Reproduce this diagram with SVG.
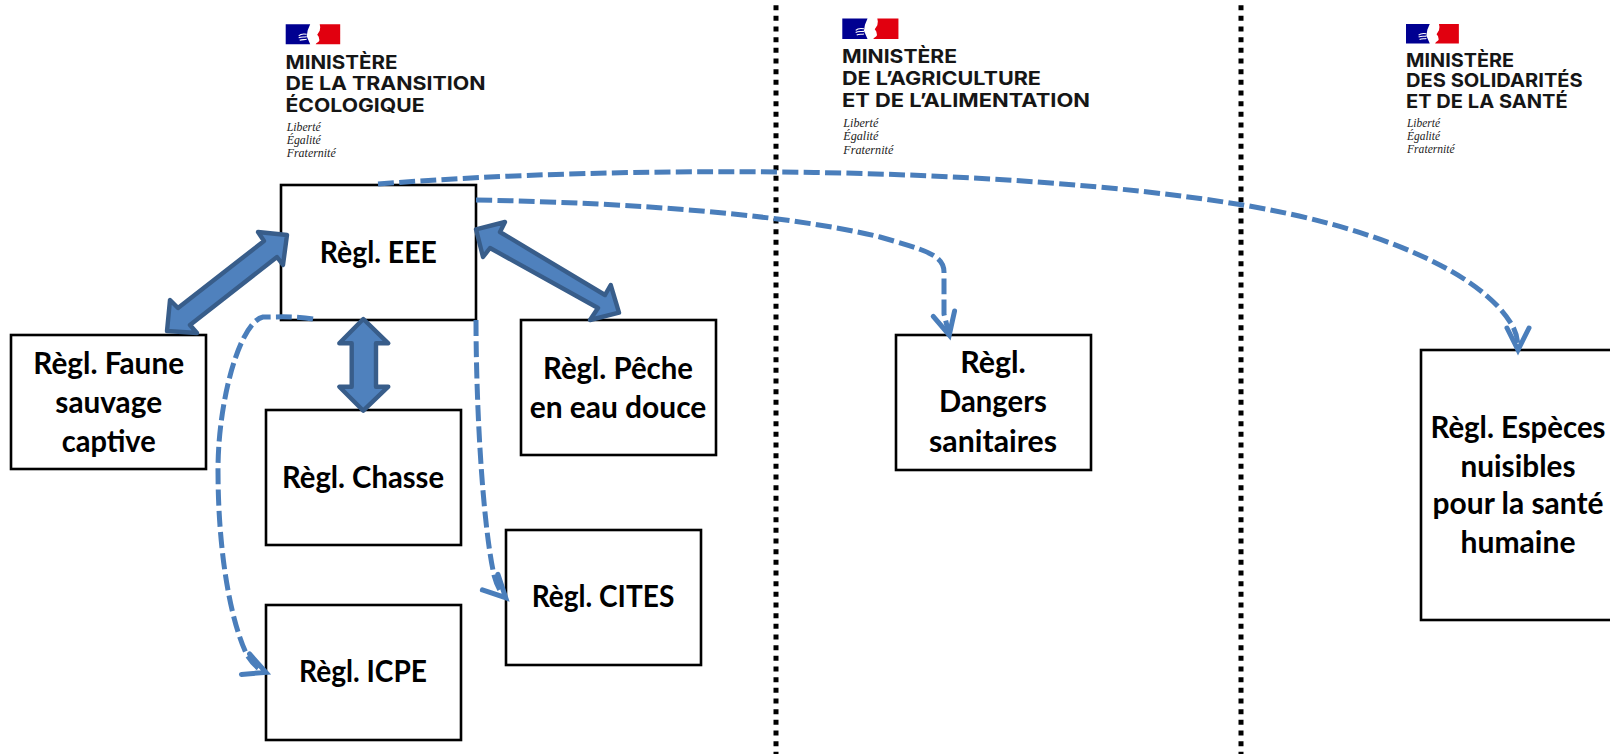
<svg xmlns="http://www.w3.org/2000/svg" width="1610" height="754" viewBox="0 0 1610 754">
<style>
.box{fill:#fff;stroke:#000;stroke-width:2.6}
.lbl{font:700 30px Lato,"Liberation Sans",sans-serif;fill:#000;text-anchor:middle}
.sep{fill:none;stroke:#000;stroke-width:5;stroke-dasharray:5 5.667}
.thick{fill:#4f81bd;stroke:#385d8a;stroke-width:4.4;stroke-linejoin:round}
.dash{fill:none;stroke:#4a7ebb;stroke-width:5;stroke-dasharray:16 5.3;marker-end:url(#head)}
.min{font:700 19px Inter,"Noto Sans",sans-serif;fill:#161616}
.dev{font:italic 11.5px "Liberation Serif",serif;fill:#222}
</style>
<defs>
<marker id="head" markerUnits="userSpaceOnUse" markerWidth="36" markerHeight="36" refX="27" refY="16" orient="auto" overflow="visible">
<path d="M6,5 L28,16 L6,27" fill="none" stroke="#4a7ebb" stroke-width="5" stroke-linecap="round"/>
</marker>
<g id="flag">
<rect x="0" y="0" width="54.5" height="20" fill="#fff"/>
<path d="M0,0H24.5L22,6L21,12L24.5,20H0Z" fill="#000091"/>
<path d="M34,0H54.5V20H30C31,18 34.5,17.5 33.5,15L33,12.5L31.5,10.5L34,6.5L34.5,3Z" fill="#e1000f"/>
<path d="M13,11.5C15,9.5 18,9.5 21,10M13,13.5C16,12 18,13 21,12.5M14,16C16,15 18,15.5 21,15" fill="none" stroke="#fff" stroke-width="1.1"/>
</g>
</defs>
<rect width="1610" height="754" fill="#fff"/>

<g id="separators">
<line class="sep" x1="776" y1="5.17" x2="776" y2="754"/>
<line class="sep" x1="1241" y1="5.17" x2="1241" y2="754"/>
</g>

<g id="logo-transition">
<use href="#flag" transform="translate(285.7 24.3)"/>
<text class="min" x="285.5" y="69.3" textLength="112" lengthAdjust="spacingAndGlyphs">MINISTÈRE</text>
<text class="min" x="285.5" y="90" textLength="200" lengthAdjust="spacingAndGlyphs">DE LA TRANSITION</text>
<text class="min" x="285.5" y="111.7" textLength="139" lengthAdjust="spacingAndGlyphs">ÉCOLOGIQUE</text>
<text class="dev" x="286.7" y="130.7" textLength="34" lengthAdjust="spacingAndGlyphs">Liberté</text>
<text class="dev" x="286.7" y="144" textLength="34" lengthAdjust="spacingAndGlyphs">Égalité</text>
<text class="dev" x="286.7" y="157.3" textLength="49" lengthAdjust="spacingAndGlyphs">Fraternité</text>
</g>
<g id="logo-agriculture">
<use href="#flag" transform="translate(842.3 18.5) scale(1.03 1.03)"/>
<text class="min" x="842" y="63.3" textLength="115" lengthAdjust="spacingAndGlyphs">MINISTÈRE</text>
<text class="min" x="842" y="85" textLength="199" lengthAdjust="spacingAndGlyphs">DE L’AGRICULTURE</text>
<text class="min" x="842" y="106.7" textLength="248" lengthAdjust="spacingAndGlyphs">ET DE L’ALIMENTATION</text>
<text class="dev" x="843.3" y="126.7" textLength="35" lengthAdjust="spacingAndGlyphs">Liberté</text>
<text class="dev" x="843.3" y="140" textLength="35" lengthAdjust="spacingAndGlyphs">Égalité</text>
<text class="dev" x="843.3" y="154.3" textLength="50" lengthAdjust="spacingAndGlyphs">Fraternité</text>
</g>
<g id="logo-sante">
<use href="#flag" transform="translate(1406 24) scale(0.97 0.97)"/>
<text class="min" x="1406" y="66.7" textLength="108" lengthAdjust="spacingAndGlyphs">MINISTÈRE</text>
<text class="min" x="1406" y="87.3" textLength="176.7" lengthAdjust="spacingAndGlyphs">DES SOLIDARITÉS</text>
<text class="min" x="1406" y="108" textLength="161.7" lengthAdjust="spacingAndGlyphs">ET DE LA SANTÉ</text>
<text class="dev" x="1407" y="126.7" textLength="33" lengthAdjust="spacingAndGlyphs">Liberté</text>
<text class="dev" x="1407" y="140" textLength="33" lengthAdjust="spacingAndGlyphs">Égalité</text>
<text class="dev" x="1407" y="152.7" textLength="47.7" lengthAdjust="spacingAndGlyphs">Fraternité</text>
</g>

<g id="node-eee"><rect class="box" x="281" y="185" width="195" height="135"/><text class="lbl" x="378.3" y="262.7" textLength="117" lengthAdjust="spacingAndGlyphs">Règl. EEE</text></g>
<g id="node-faune"><rect class="box" x="11" y="335" width="195" height="134"/><text class="lbl" x="108.7" y="374" textLength="150.7" lengthAdjust="spacingAndGlyphs">Règl. Faune</text><text class="lbl" x="108.7" y="412.7" textLength="106.7" lengthAdjust="spacingAndGlyphs">sauvage</text><text class="lbl" x="108.7" y="451.7" textLength="94" lengthAdjust="spacingAndGlyphs">captive</text></g>
<g id="node-chasse"><rect class="box" x="266" y="410" width="195" height="135"/><text class="lbl" x="363" y="488" textLength="162" lengthAdjust="spacingAndGlyphs">Règl. Chasse</text></g>
<g id="node-peche"><rect class="box" x="521" y="320" width="195" height="135"/><text class="lbl" x="618" y="378.5" textLength="150" lengthAdjust="spacingAndGlyphs">Règl. Pêche</text><text class="lbl" x="618" y="417.5" textLength="176.7" lengthAdjust="spacingAndGlyphs">en eau douce</text></g>
<g id="node-icpe"><rect class="box" x="266" y="605" width="195" height="135"/><text class="lbl" x="363" y="682" textLength="128" lengthAdjust="spacingAndGlyphs">Règl. ICPE</text></g>
<g id="node-cites"><rect class="box" x="506" y="530" width="195" height="135"/><text class="lbl" x="603" y="607" textLength="142.7" lengthAdjust="spacingAndGlyphs">Règl. CITES</text></g>
<g id="node-dangers"><rect class="box" x="896" y="335" width="195" height="135"/><text class="lbl" x="993" y="373" textLength="65.7" lengthAdjust="spacingAndGlyphs">Règl.</text><text class="lbl" x="993" y="412" textLength="107.8" lengthAdjust="spacingAndGlyphs">Dangers</text><text class="lbl" x="993" y="451.7" textLength="128" lengthAdjust="spacingAndGlyphs">sanitaires</text></g>
<g id="node-especes"><rect class="box" x="1421" y="350" width="200" height="270"/><text class="lbl" x="1518" y="437.7" textLength="175" lengthAdjust="spacingAndGlyphs">Règl. Espèces</text><text class="lbl" x="1518" y="476.7" textLength="115" lengthAdjust="spacingAndGlyphs">nuisibles</text><text class="lbl" x="1518" y="514" textLength="171" lengthAdjust="spacingAndGlyphs">pour la santé</text><text class="lbl" x="1518" y="552.7" textLength="115" lengthAdjust="spacingAndGlyphs">humaine</text></g>

<g id="connectors">
<path class="thick" d="M287,235L258,232L264,241L178,308L170,300L167,331L197,333L190,325L277,257L283,265Z"/>
<path class="thick" d="M476,229.3L505,222L500,232L605,295L610.7,285L619,312.7L590,320L598,308L490,248L483,257Z"/>
<path class="thick" d="M363.3,319L388.3,343.3H376V386.7H388.3L363.3,410.7L339.3,386.7H351.7V343.3H339.3Z"/>
<path class="dash" d="M378,184C620,165 1000,165 1243,205C1370,226 1480,270 1512,325Q1518,335 1518,349"/>
<path class="dash" d="M476,200C640,203 790,215 880,237C925,250 944,255 944,272C944,290 944,300 944,314L949,334"/>
<path class="dash" d="M313,319C295,316 280,317 263,317C240,322 218,400 218,470C218,550 230,620 247,655Q255,668 265,672"/>
<path class="dash" d="M476,320C476,400 482,520 494,575Q498,590 505,597"/>
</g>
</svg>
